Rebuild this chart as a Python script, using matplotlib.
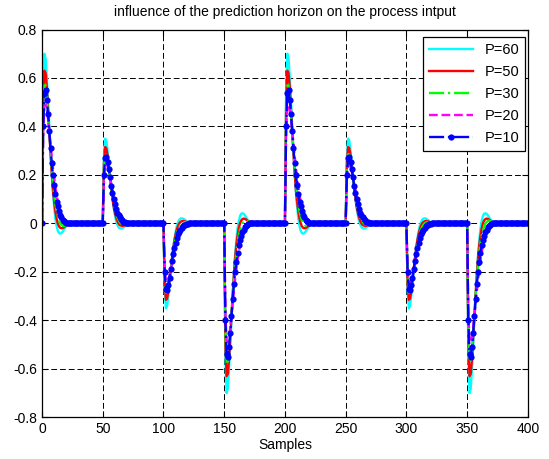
import matplotlib
matplotlib.use("Agg")
import matplotlib.pyplot as plt
import numpy as np

plt.rcParams['font.family'] = ['Liberation Sans', 'DejaVu Sans']

# setpoint change instants and their relative sizes
events = [0, 50, 100, 150, 200, 250, 300, 350]
scales = [1, 0.5, -0.5, -1, 1, 0.5, -0.5, -1]
n_samples = 401

# control response to a unit step
resp_p60 = [0, 0.55, 0.70, 0.68, 0.60, 0.50, 0.40, 0.30, 0.21, 0.13, 0.07, 0.02, -0.01,
            -0.03, -0.04, -0.042, -0.04, -0.034, -0.026, -0.018, -0.011, -0.006, -0.003, -0.001, 0]
resp_p50 = [0, 0.50, 0.63, 0.62, 0.56, 0.47, 0.38, 0.29, 0.21, 0.14, 0.09, 0.05, 0.02, 0.0,
            -0.012, -0.018, -0.02, -0.019, -0.016, -0.012, -0.008, -0.005, -0.002, 0]
resp_p30 = [0, 0.45, 0.57, 0.57, 0.52, 0.45, 0.38, 0.30, 0.23, 0.17, 0.12, 0.08, 0.05, 0.03,
            0.012, 0.0, -0.006, -0.01, -0.011, -0.01, -0.008, -0.005, -0.003, -0.001, 0]
resp_p20 = [0, 0.38, 0.48, 0.49, 0.47, 0.43, 0.38, 0.33, 0.28, 0.23, 0.19, 0.15, 0.12, 0.09,
            0.065, 0.045, 0.03, 0.018, 0.008, 0.001, -0.004, -0.007, -0.008, -0.007, -0.005,
            -0.003, -0.001, 0]
resp_p10 = [0, 0.40, 0.54, 0.55, 0.51, 0.45, 0.38, 0.31, 0.25, 0.20, 0.16, 0.12, 0.09, 0.07,
            0.05, 0.035, 0.025, 0.016, 0.01, 0.005, 0.002, 0]

labels = ['P=60', 'P=50', 'P=30', 'P=20', 'P=10']
responses = [resp_p60, resp_p50, resp_p30, resp_p20, resp_p10]
colors = ['#00FFFF', '#FF0000', '#00FF00', '#FF00FF', '#0000FF']
styles = ['-', '-', '-.', '--', '-.']
markers = ['', '', '', '', 'o']


def build(resp):
    u = np.zeros(n_samples)
    for e, s in zip(events, scales):
        r = np.array(resp) * s
        end = min(e + len(r), n_samples)
        u[e:end] += r[:end - e]
    return u


k = np.arange(n_samples)

fig = plt.figure(figsize=(5.49, 4.59), dpi=100)
ax = fig.add_axes([0.0765, 0.0907, 0.885, 0.845])

for resp, lab, c, ls, m in zip(responses, labels, colors, styles, markers):
    ax.plot(k, build(resp), color=c, linestyle=ls, marker=m, markersize=4.5,
            markeredgewidth=0, linewidth=1.7, label=lab)

ax.set_xlim(0, 400)
ax.set_ylim(-0.8, 0.8)
ax.set_xticks(np.arange(0, 401, 50))
ax.set_yticks(np.arange(-0.8, 0.81, 0.2))
ax.set_yticklabels(['-0.8', '-0.6', '-0.4', '-0.2', '0', '0.2', '0.4', '0.6', '0.8'])
ax.grid(True, color='black', linestyle=(0, (6, 3)), linewidth=0.7)
ax.tick_params(direction='in', top=True, right=True, labelsize=10, length=4, width=0.8)
for sp in ax.spines.values():
    sp.set_linewidth(0.9)

ax.set_title('influence of the prediction horizon on the process intput', fontsize=10, pad=10)
ax.set_xlabel('Samples', fontsize=10, labelpad=1)

leg = ax.legend(loc='upper right', bbox_to_anchor=(1 - 3 / 486, 1 - 7.5 / 388),
                fontsize=10.5, fancybox=False, framealpha=1, edgecolor='black',
                handlelength=3.0, borderaxespad=0, labelspacing=0.55,
                handletextpad=0.8, numpoints=1)
leg.get_frame().set_linewidth(0.9)

fig.savefig('out.png', dpi=100)
